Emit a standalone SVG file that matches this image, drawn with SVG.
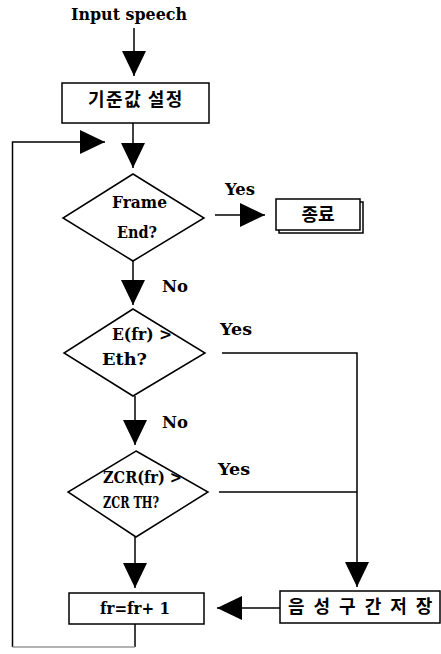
<svg xmlns="http://www.w3.org/2000/svg" width="441" height="654" viewBox="0 0 441 654">
<defs>
<marker id="ah" markerUnits="userSpaceOnUse" markerWidth="26" markerHeight="24" viewBox="0 0 26 24" refX="25" refY="12" orient="auto">
<path d="M0,0 L25,12 L0,24 Z" fill="#000"/>
</marker>
<style>
.ln{fill:none;stroke:#000;stroke-width:1.5}
.bx{fill:#fff;stroke:#000;stroke-width:1.5}
.t{font-family:"DejaVu Serif","Liberation Serif",serif;font-weight:bold;font-size:16px;fill:#000}
.k{font-family:"Noto Sans CJK KR","Noto Sans",sans-serif;font-weight:bold;font-size:18px;fill:#000}
</style>
</defs>
<rect width="441" height="654" fill="#fff"/>
<g id="connectors">
<path class="ln" d="M134,28 V76" marker-end="url(#ah)"/>
<path class="ln" d="M133,123 V168" marker-end="url(#ah)"/>
<path class="ln" d="M12.5,647 V142 H105" marker-end="url(#ah)"/>
<path class="ln" d="M215,215 H265" marker-end="url(#ah)"/>
<path class="ln" d="M133,261 V305" marker-end="url(#ah)"/>
<path class="ln" d="M222,353 H357 V587" marker-end="url(#ah)"/>
<path class="ln" d="M135,396 V445" marker-end="url(#ah)"/>
<path class="ln" d="M219,492 H357"/>
<path class="ln" d="M135,537 V588" marker-end="url(#ah)"/>
<path class="ln" d="M280,608 H217" marker-end="url(#ah)"/>
<path class="ln" d="M135,624 V647"/>
<path d="M135,647 H12.5" fill="none" stroke="#999" stroke-width="1.5"/>
<text class="t" x="225" y="195" textLength="30" lengthAdjust="spacingAndGlyphs">Yes</text>
<text class="t" x="162" y="292" textLength="26" lengthAdjust="spacingAndGlyphs">No</text>
<text class="t" x="220" y="335" textLength="32" lengthAdjust="spacingAndGlyphs">Yes</text>
<text class="t" x="162" y="428" textLength="26" lengthAdjust="spacingAndGlyphs">No</text>
<text class="t" x="218" y="475" textLength="32" lengthAdjust="spacingAndGlyphs">Yes</text>
</g>
<g id="input">
<text class="t" x="71" y="20" font-size="15" textLength="116" lengthAdjust="spacingAndGlyphs">Input speech</text>
</g>
<g id="init">
<rect class="bx" x="62" y="83" width="147" height="40"/>
<text class="k" x="136" y="106" text-anchor="middle" letter-spacing="1.5">기준값 설정</text>
</g>
<g id="frameEnd">
<polygon class="bx" points="133,174 204,218 133,261 63,218"/>
<text class="t" x="112" y="208" textLength="55" lengthAdjust="spacingAndGlyphs">Frame</text>
<text class="t" x="117" y="238" textLength="40" lengthAdjust="spacingAndGlyphs">End?</text>
</g>
<g id="end">
<rect class="bx" x="279" y="202" width="84" height="31"/>
<rect class="bx" x="276" y="199" width="84" height="31"/>
<text class="k" x="318" y="221" text-anchor="middle" font-size="16">종료</text>
</g>
<g id="energy">
<polygon class="bx" points="133,309 205,353 133,396 64,353"/>
<text class="t" x="112" y="340" textLength="60" lengthAdjust="spacingAndGlyphs">E(fr) &gt;</text>
<text class="t" x="102" y="365" textLength="45" lengthAdjust="spacingAndGlyphs">Eth?</text>
</g>
<g id="zcr">
<polygon class="bx" points="136,451 208,492 136,537 68,492"/>
<text class="t" x="103" y="483" textLength="79" lengthAdjust="spacingAndGlyphs">ZCR(fr) &gt;</text>
<text class="t" x="103" y="508" textLength="56" lengthAdjust="spacingAndGlyphs">ZCR TH?</text>
</g>
<g id="incr">
<rect class="bx" x="69" y="593" width="135" height="31"/>
<text class="t" x="100" y="614" textLength="70" lengthAdjust="spacingAndGlyphs">fr=fr+ 1</text>
</g>
<g id="store">
<rect class="bx" x="280" y="591" width="160" height="32"/>
<text class="k" x="288" y="613" font-size="16" letter-spacing="9">음성구간저장</text>
</g>
</svg>
